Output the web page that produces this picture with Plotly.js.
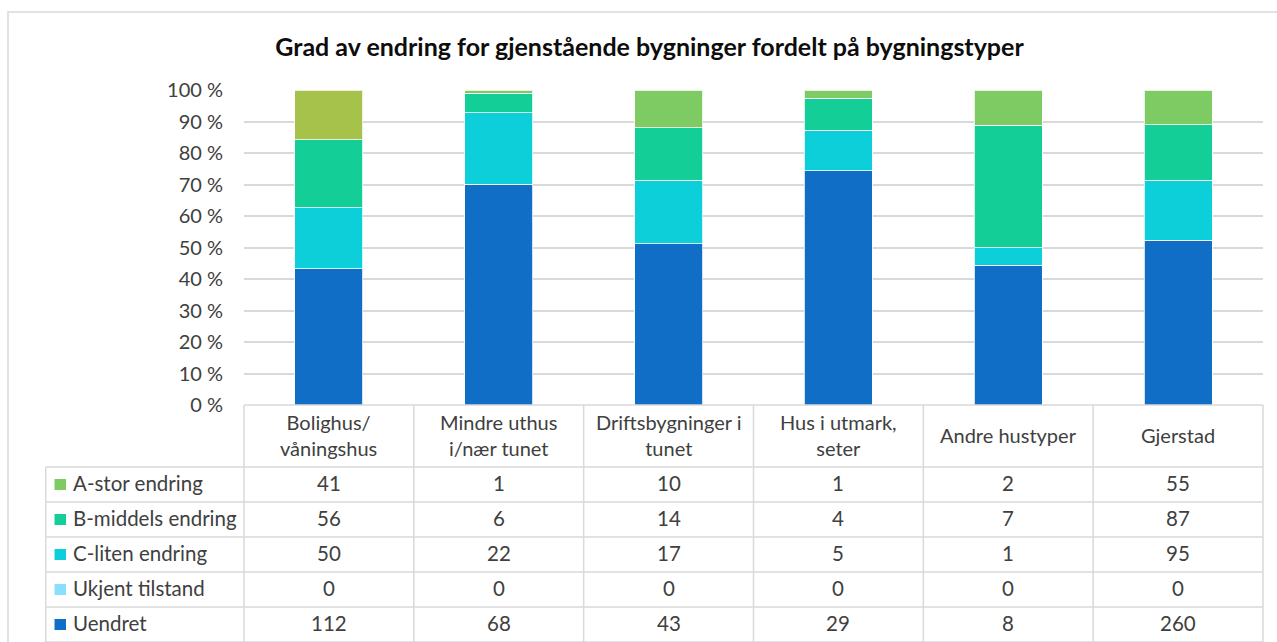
<!DOCTYPE html>
<html>
<head>
<meta charset="utf-8">
<script src="https://cdn.plot.ly/plotly-3.0.1.min.js"></script>
<style>html,body{margin:0;padding:0;background:#fff;}#chart{width:1277px;height:642px;}</style>
</head>
<body>
<div id="chart"></div>
<script>
// ---- data ----
const categories = ["Bolighus/<br>våningshus", "Mindre uthus<br>i/nær tunet", "Driftsbygninger i<br>tunet", "Hus i utmark,<br>seter", "Andre hustyper", "Gjerstad"];
const seriesNames = ["A-stor endring", "B-middels endring", "C-liten endring", "Ukjent tilstand", "Uendret"];
const aStor    = [41, 1, 10, 1, 2, 55];
const bMiddels = [56, 6, 14, 4, 7, 87];
const cLiten   = [50, 22, 17, 5, 1, 95];
const ukjent   = [0, 0, 0, 0, 0, 0];
const uendret  = [112, 68, 43, 29, 8, 260];
const yTicks   = [0, 10, 20, 30, 40, 50, 60, 70, 80, 90, 100];

// ---- styles ----
const W = 1277, H = 642;
const L = 244, R = 1263, T = 90, B = 405;
const tableLeft = 45.7;
const headerBottom = 467;
const rowH = 35;
const FONT = "Lato, 'Noto Sans', sans-serif";
const textColor = "#404040";
const gridColor = "#D9D9D9";
const colors = {
  "A-stor endring": "#7DCB62",
  "B-middels endring": "#13CF97",
  "C-liten endring": "#0DCFD9",
  "Ukjent tilstand": "#8ADFFF",
  "Uendret": "#106EC6"
};
const firstAColor = "#A6C24A";

const valuesBySeries = {
  "A-stor endring": aStor,
  "B-middels endring": bMiddels,
  "C-liten endring": cLiten,
  "Ukjent tilstand": ukjent,
  "Uendret": uendret
};

const xIdx = categories.map((c, i) => i);

// stack order: bottom first
const stackOrder = ["Uendret", "Ukjent tilstand", "C-liten endring", "B-middels endring", "A-stor endring"];
const traces = stackOrder.map(name => ({
  type: "bar",
  name: name,
  x: xIdx,
  y: valuesBySeries[name],
  marker: {
    color: name === "A-stor endring" ? valuesBySeries[name].map((v, i) => i === 0 ? firstAColor : colors[name]) : colors[name],
    line: {color: "rgba(255,255,255,0.8)", width: 1}
  },
  hoverinfo: "name+y"
}));

const px = X => (X - L) / (R - L);
const py = Y => (B - Y) / (B - T);
const nCol = categories.length;

const shapes = [];
const annotations = [];
const lineStyle = {color: gridColor, width: 1.5};

// outer chart border (left & top)
shapes.push({type: "rect", xref: "paper", yref: "paper", x0: px(8), x1: px(W + 20), y0: py(H + 20), y1: py(12), line: {color: "#D9D9D9", width: 1.5}, fillcolor: "rgba(0,0,0,0)", layer: "below"});

// header top line
shapes.push({type: "line", xref: "paper", yref: "paper", x0: 0, x1: 1, y0: py(B), y1: py(B), line: lineStyle});
// column verticals
for (let k = 0; k <= nCol; k++) {
  shapes.push({type: "line", xref: "paper", yref: "paper", x0: k / nCol, x1: k / nCol, y0: py(B), y1: py(H + 5), line: lineStyle});
}
// row lines
for (let r = 0; r <= seriesNames.length; r++) {
  const yy = headerBottom + r * rowH;
  shapes.push({type: "line", xref: "paper", yref: "paper", x0: px(tableLeft), x1: 1, y0: py(yy), y1: py(yy), line: lineStyle});
}
// left vertical
shapes.push({type: "line", xref: "paper", yref: "paper", x0: px(tableLeft), x1: px(tableLeft), y0: py(headerBottom), y1: py(H + 5), line: lineStyle});

// header labels
categories.forEach((c, i) => {
  annotations.push({xref: "paper", yref: "paper", x: (i + 0.5) / nCol, y: py((B + headerBottom) / 2 - 1), text: c, showarrow: false, xanchor: "center", yanchor: "middle", align: "center", font: {family: FONT, size: 20, color: textColor}});
});

// rows
seriesNames.forEach((name, r) => {
  const yc = headerBottom + r * rowH + rowH / 2;
  // legend key
  shapes.push({type: "rect", xref: "paper", yref: "paper", x0: px(54.5), x1: px(66), y0: py(yc - 5.5), y1: py(yc + 5.5), line: {width: 0}, fillcolor: colors[name]});
  annotations.push({xref: "paper", yref: "paper", x: px(71), y: py(yc - 1.5), text: name, showarrow: false, xanchor: "left", yanchor: "middle", font: {family: FONT, size: 20.5, color: textColor}});
  valuesBySeries[name].forEach((v, i) => {
    annotations.push({xref: "paper", yref: "paper", x: (i + 0.5) / nCol, y: py(yc - 1.5), text: String(v), showarrow: false, xanchor: "center", yanchor: "middle", font: {family: FONT, size: 20.5, color: textColor}});
  });
});

const layout = {
  width: W, height: H,
  margin: {l: L, r: W - R, t: T, b: H - B, pad: 0},
  paper_bgcolor: "#fff", plot_bgcolor: "#fff",
  barmode: "stack",
  barnorm: "percent",
  bargap: 0.6,
  showlegend: false,
  title: {
    text: "<b>Grad av endring for gjenstående bygninger fordelt på bygningstyper</b>",
    xref: "container", yref: "container",
    x: 649.5 / W, y: 1 - 47 / H, xanchor: "center", yanchor: "middle",
    font: {family: FONT, size: 25, color: "#0D0D0D"}
  },
  xaxis: {type: "linear", range: [-0.5, nCol - 0.5], showticklabels: false, showgrid: false, zeroline: false, showline: false, ticks: "", fixedrange: true},
  yaxis: {range: [0, 100], tickvals: yTicks, ticktext: yTicks.map(v => v + " %"), showgrid: true, gridcolor: gridColor, gridwidth: 2, zeroline: false, showline: false, ticks: "", ticklabelstandoff: 20, tickfont: {family: FONT, size: 20, color: textColor}, fixedrange: true},
  shapes: shapes,
  annotations: annotations
};

Plotly.newPlot("chart", traces, layout, {displayModeBar: false, staticPlot: true});
</script>
</body>
</html>
